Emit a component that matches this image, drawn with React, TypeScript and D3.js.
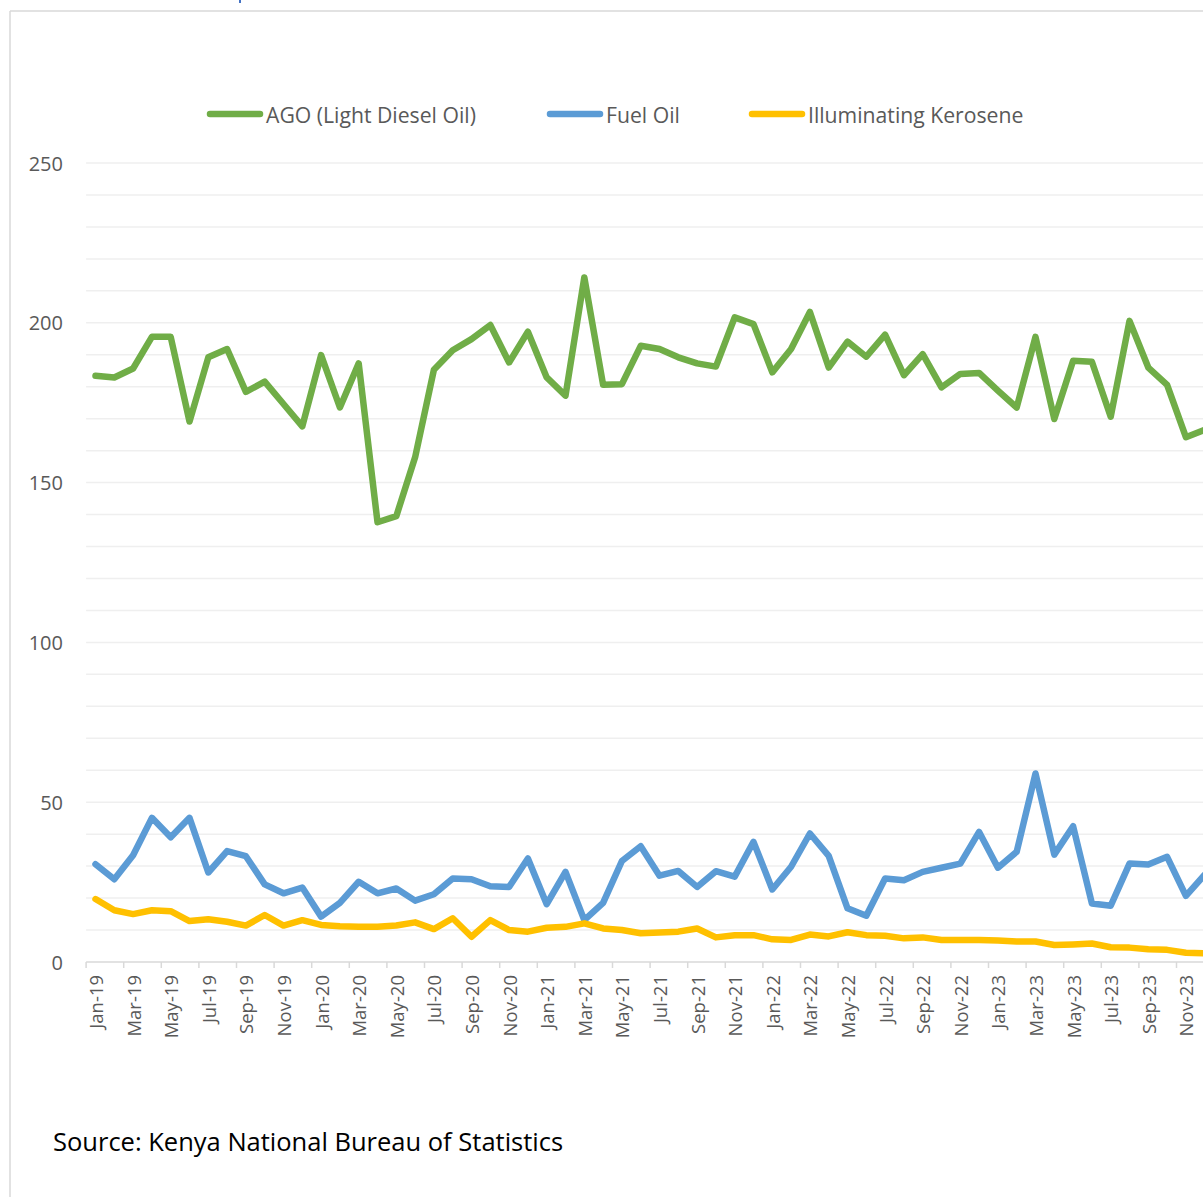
import React from "react";
import * as d3 from "d3";

// Monthly categories, Jan-19 to Dec-23
const months: string[] = [
  "Jan-19", "Feb-19", "Mar-19", "Apr-19", "May-19", "Jun-19", "Jul-19", "Aug-19", "Sep-19", "Oct-19", "Nov-19", "Dec-19",
  "Jan-20", "Feb-20", "Mar-20", "Apr-20", "May-20", "Jun-20", "Jul-20", "Aug-20", "Sep-20", "Oct-20", "Nov-20", "Dec-20",
  "Jan-21", "Feb-21", "Mar-21", "Apr-21", "May-21", "Jun-21", "Jul-21", "Aug-21", "Sep-21", "Oct-21", "Nov-21", "Dec-21",
  "Jan-22", "Feb-22", "Mar-22", "Apr-22", "May-22", "Jun-22", "Jul-22", "Aug-22", "Sep-22", "Oct-22", "Nov-22", "Dec-22",
  "Jan-23", "Feb-23", "Mar-23", "Apr-23", "May-23", "Jun-23", "Jul-23", "Aug-23", "Sep-23", "Oct-23", "Nov-23", "Dec-23",
];

const ago: number[] = [
  183.4, 182.9, 185.7, 195.6, 195.6, 169.1, 189.2, 191.8, 178.4, 181.6, 174.6, 167.6,
  189.9, 173.5, 187.3, 137.6, 139.5, 157.9, 185.3, 191.4, 194.9, 199.3, 187.6, 197.2,
  182.9, 177.2, 214.2, 180.6, 180.8, 192.8, 191.8, 189.2, 187.3, 186.3, 201.7, 199.6,
  184.5, 191.8, 203.4, 186.0, 194.1, 189.4, 196.3, 183.6, 190.2, 179.8, 184.0, 184.3,
  178.8, 173.5, 195.6, 169.9, 188.1, 187.8, 170.6, 200.6, 186.0, 180.6, 164.2, 166.5,
];

const fuelOil: number[] = [
  30.6, 25.9, 33.4, 45.1, 39.0, 45.1, 28.0, 34.7, 33.1, 24.3, 21.5, 23.3,
  14.2, 18.5, 25.1, 21.5, 23.0, 19.2, 21.2, 26.1, 25.9, 23.7, 23.5, 32.4,
  18.1, 28.2, 13.1, 18.5, 31.6, 36.2, 27.0, 28.5, 23.5, 28.4, 26.7, 37.6,
  22.7, 29.8, 40.2, 33.2, 16.8, 14.5, 26.1, 25.6, 28.2, 29.5, 30.8, 40.7,
  29.5, 34.5, 59.0, 33.6, 42.5, 18.3, 17.6, 30.8, 30.5, 32.9, 20.7, 27.3,
];

const kerosene: number[] = [
  19.7, 16.2, 15.0, 16.2, 15.9, 12.8, 13.4, 12.6, 11.4, 14.7, 11.4, 13.1,
  11.6, 11.2, 11.0, 11.0, 11.4, 12.4, 10.3, 13.7, 7.9, 13.1, 10.0, 9.5,
  10.7, 11.0, 12.1, 10.5, 10.0, 9.0, 9.2, 9.5, 10.5, 7.7, 8.4, 8.4,
  7.1, 6.9, 8.6, 8.0, 9.3, 8.4, 8.2, 7.4, 7.7, 6.9, 6.9, 6.9,
  6.7, 6.4, 6.4, 5.3, 5.5, 5.8, 4.6, 4.5, 4.0, 3.8, 2.9, 2.7,
];

const seriesNames: string[] = ["AGO (Light Diesel Oil)", "Fuel Oil", "Illuminating Kerosene"];
const seriesColors: string[] = ["#70AD47", "#5B9BD5", "#FFC000"];
const yTickLabels: number[] = [0, 50, 100, 150, 200, 250];
const sourceNote = "Source: Kenya National Bureau of Statistics";

const W = 1203;
const H = 1197;
const FONT = "'Open Sans', sans-serif";
const TEXT = "#595959";

export default function App() {
  const step = 18.8;
  const left = 86.1;
  const x = d3
    .scaleBand<string>()
    .domain(months)
    .range([left, left + months.length * step])
    .padding(0);
  const y = d3.scaleLinear().domain([0, 250]).range([962, 163]);
  const cx = (m: string) => (x(m) as number) + x.bandwidth() / 2;

  const line = d3
    .line<number>()
    .x((_, i) => cx(months[i]))
    .y((v) => y(v));

  const gridValues = d3.range(10, 251, 10);
  const tickMonths = months.filter((_, i) => i % 2 === 0);
  const series = [ago, fuelOil, kerosene];

  // legend layout: line start x for each entry
  const legendX = [210, 550, 752];
  const legendY = 114;

  return (
    <>
      <style>{`body{margin:0}`}</style>
      <svg width={W} height={H} style={{ display: "block", background: "#fff" }}>
        {/* chart frame */}
        <line x1={10} y1={11} x2={W} y2={11} stroke="#d9d9d9" strokeWidth={1.5} />
        <line x1={10} y1={11} x2={10} y2={H} stroke="#d9d9d9" strokeWidth={1.5} />
        {/* tail of a heading above the frame */}
        <line x1={240} y1={0} x2={240} y2={3} stroke="#4472C4" strokeWidth={2} />

        {/* horizontal gridlines */}
        {gridValues.map((v) => (
          <line key={v} x1={left} x2={W} y1={y(v)} y2={y(v)} stroke="#efefef" strokeWidth={1.5} />
        ))}

        {/* y-axis labels */}
        {yTickLabels.map((v) => (
          <text
            key={v}
            x={63}
            y={y(v)}
            textAnchor="end"
            dominantBaseline="central"
            fontFamily={FONT}
            fontSize={20}
            fill={TEXT}
          >
            {v}
          </text>
        ))}

        {/* x axis */}
        <line x1={left} x2={W} y1={y(0)} y2={y(0)} stroke="#d9d9d9" strokeWidth={1.5} />
        {tickMonths.map((m) => (
          <line key={m} x1={x(m) as number} x2={x(m) as number} y1={y(0)} y2={y(0) + 6} stroke="#d9d9d9" strokeWidth={1.5} />
        ))}
        {tickMonths.map((m) => (
          <text
            key={m}
            transform={`translate(${cx(m)},${y(0) + 13}) rotate(-90)`}
            textAnchor="end"
            dominantBaseline="central"
            fontFamily={FONT}
            fontSize={18.5}
            fill={TEXT}
          >
            {m}
          </text>
        ))}

        {/* series lines */}
        {series.map((s, k) => (
          <path
            key={k}
            d={line(s) ?? ""}
            fill="none"
            stroke={seriesColors[k]}
            strokeWidth={6.5}
            strokeLinejoin="round"
            strokeLinecap="round"
          />
        ))}

        {/* legend */}
        {seriesNames.map((n, k) => (
          <g key={n}>
            <line
              x1={legendX[k]}
              x2={legendX[k] + 50}
              y1={legendY}
              y2={legendY}
              stroke={seriesColors[k]}
              strokeWidth={6.5}
              strokeLinecap="round"
            />
            <text
              x={legendX[k] + 56}
              y={legendY}
              dominantBaseline="central"
              fontFamily={FONT}
              fontSize={21.2}
              fill={TEXT}
            >
              {n}
            </text>
          </g>
        ))}

        {/* source note */}
        <text x={53} y={1151} fontFamily={FONT} fontSize={25.5} fill="#000">
          {sourceNote}
        </text>
      </svg>
    </>
  );
}
